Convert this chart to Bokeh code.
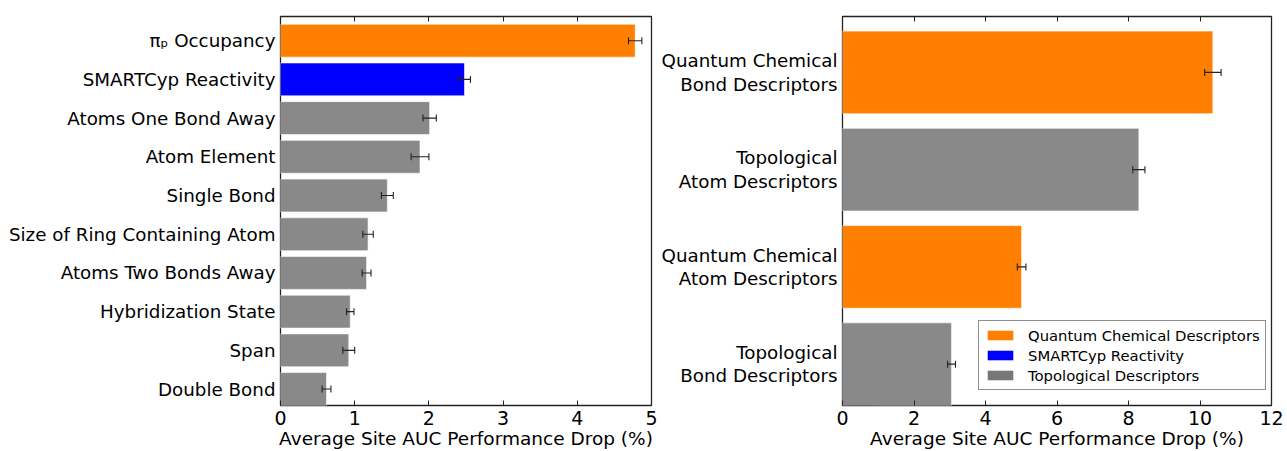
from bokeh.plotting import figure
from bokeh.models import (Range1d, FixedTicker, SingleIntervalTicker, LinearAxis, Whisker,
                          ColumnDataSource, Legend, LegendItem, TeeHead, CustomJSTickFormatter)
from bokeh.layouts import row
from bokeh.embed import file_html
from bokeh.resources import INLINE

# ---------------- data ----------------
left_labels = ["πₚ Occupancy", "SMARTCyp Reactivity", "Atoms One Bond Away", "Atom Element",
               "Single Bond", "Size of Ring Containing Atom", "Atoms Two Bonds Away",
               "Hybridization State", "Span", "Double Bond"]
left_values = [4.78, 2.48, 2.01, 1.88, 1.44, 1.18, 1.16, 0.94, 0.92, 0.62]
left_errors = [0.09, 0.08, 0.09, 0.12, 0.08, 0.07, 0.06, 0.05, 0.08, 0.06]
left_groups = ["Quantum Chemical Descriptors", "SMARTCyp Reactivity"] + ["Topological Descriptors"] * 8

right_labels = ["Quantum Chemical\nBond Descriptors", "Topological\nAtom Descriptors",
                "Quantum Chemical\nAtom Descriptors", "Topological\nBond Descriptors"]
right_values = [10.36, 8.29, 5.01, 3.05]
right_errors = [0.23, 0.17, 0.12, 0.11]
right_groups = ["Quantum Chemical Descriptors", "Topological Descriptors",
                "Quantum Chemical Descriptors", "Topological Descriptors"]

legend_labels = ["Quantum Chemical Descriptors", "SMARTCyp Reactivity", "Topological Descriptors"]
x_label = "Average Site AUC Performance Drop (%)"

# ---------------- styles ----------------
BAR_COLORS = {"Quantum Chemical Descriptors": "#FF7F00",
              "SMARTCyp Reactivity": "#0000FF",
              "Topological Descriptors": "#898989"}
LEGEND_COLORS = {"Quantum Chemical Descriptors": "#FF7F00",
                 "SMARTCyp Reactivity": "#0000FF",
                 "Topological Descriptors": "#777777"}
FONT = "DejaVu Sans"
BAR_H = 0.85


def make_panel(labels, values, errors, groups, xmax, xstep, ytop, width, height,
               bl, br, bt):
    n = len(labels)
    ys = [n - 1 - i for i in range(n)]
    p = figure(width=width, height=height, output_backend="svg", toolbar_location=None,
               x_range=Range1d(0, xmax), y_range=Range1d(-BAR_H / 2, ytop),
               min_border_left=bl, min_border_right=br, min_border_top=bt,
               min_border_bottom=0)
    p.grid.visible = False
    p.outline_line_color = "#222222"
    p.outline_line_width = 1.3
    p.background_fill_color = "white"
    p.border_fill_color = "white"

    src = ColumnDataSource(dict(
        y=ys, right=values,
        lo=[v - e for v, e in zip(values, errors)],
        hi=[v + e for v, e in zip(values, errors)],
        color=[BAR_COLORS[g] for g in groups]))
    p.hbar(y="y", left=0, right="right", height=BAR_H, fill_color="color",
           line_color="white", line_width=0.6, source=src)

    w = Whisker(source=src, base="y", lower="lo", upper="hi", dimension="width",
                line_color="#222222", line_width=1.1, level="overlay",
                upper_head=TeeHead(size=7, line_color="#222222", line_width=1.1),
                lower_head=TeeHead(size=7, line_color="#222222", line_width=1.1))
    p.add_layout(w)

    # x axis (bottom)
    xa = p.xaxis[0]
    xa.ticker = SingleIntervalTicker(interval=xstep)
    xa.axis_label = x_label
    xa.axis_label_text_font = FONT
    xa.axis_label_text_font_size = "18.5px"
    xa.axis_label_text_font_style = "normal"
    xa.axis_label_text_color = "black"
    xa.axis_label_standoff = 0
    xa.major_label_text_font = FONT
    xa.major_label_text_font_size = "19px"
    xa.major_label_text_color = "black"
    xa.major_label_standoff = 1
    xa.major_tick_in = 5
    xa.major_tick_out = 0
    xa.major_tick_line_color = "#222222"
    xa.minor_tick_line_color = None
    xa.axis_line_color = None

    # top axis with inward ticks only
    ta = LinearAxis(ticker=SingleIntervalTicker(interval=xstep),
                    formatter=CustomJSTickFormatter(code="return ''"),
                    major_label_standoff=0,
                    major_tick_in=5, major_tick_out=0, major_tick_line_color="#222222",
                    minor_tick_line_color=None, axis_line_color=None)
    p.add_layout(ta, "above")

    # y axis
    ya = p.yaxis[0]
    ya.ticker = FixedTicker(ticks=ys)
    ya.major_label_overrides = {y: lab for y, lab in zip(ys, labels)}
    ya.major_label_text_font = FONT
    ya.major_label_text_font_size = "18.3px"
    ya.major_label_text_color = "black"
    ya.major_label_text_line_height = 1.12
    ya.major_label_standoff = 5
    ya.major_tick_in = 0
    ya.major_tick_out = 0
    ya.major_tick_line_color = None
    ya.minor_tick_line_color = None
    ya.axis_line_color = None
    return p


left = make_panel(left_labels, left_values, left_errors, left_groups, 5, 1,
                  9.625, 658, 451, 280, 7, 16)
right = make_panel(right_labels, right_values, right_errors, right_groups, 12, 2,
                   3.575, 627, 451, 184, 14, 16)

# legend with proxy renderers (placed outside the visible range)
items = []
for lab in legend_labels:
    r = right.hbar(y=[-50], left=[0], right=[1], height=BAR_H,
                   fill_color=LEGEND_COLORS[lab], line_color=None)
    items.append(LegendItem(label=lab, renderers=[r]))
leg = Legend(items=items, location=(136, 15), orientation="vertical",
             label_text_font=FONT, label_text_font_size="14.8px", label_text_color="black",
             glyph_width=32, glyph_height=12, label_height=18, spacing=2,
             padding=5, margin=0, label_standoff=12,
             border_line_color="#222222", border_line_width=1.2,
             background_fill_color="white", background_fill_alpha=1.0)
right.add_layout(leg)

layout = row(left, right)
open("out.html", "w").write(file_html(layout, INLINE))
